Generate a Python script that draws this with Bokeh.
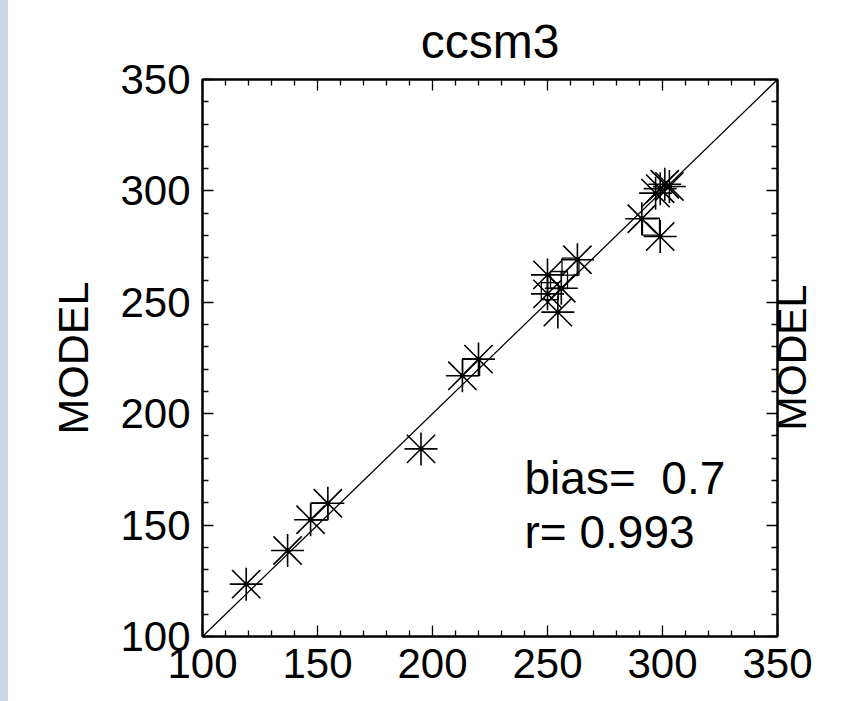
import math
from bokeh.plotting import figure
from bokeh.models import Range1d, LinearAxis, FixedTicker, Label, Title, Spacer
from bokeh.layouts import row
from bokeh.embed import file_html
from bokeh.resources import INLINE

# ---- data ----
obs_x = [119, 137, 147, 154.5, 195, 213, 220, 250, 263, 256, 250, 254.5, 291, 299, 297, 299, 301, 303]
model_y = [123.5, 138.6, 152.4, 159.8, 184.2, 217, 224.5, 262.3, 269.1, 256.3, 253.8, 245.6, 287.5, 279.5, 299, 301, 303, 302]
sq_x = [150.8, 216.8, 251, 255, 260, 295]
sq_y = [156.1, 220.9, 255, 260, 266, 284]
line_x = [100, 350]
line_y = [100, 350]
major_ticks = [100, 150, 200, 250, 300, 350]
minor_ticks = [v for v in range(100, 351, 10) if v % 50 != 0]
title_text = "ccsm3"
ylabel = "MODEL"
bias_text = "bias=\u00a0 0.7"
r_text = "r= 0.993"

FONT = "Liberation Sans"
SLIDE_BLUE = "#cbd8e9"

p = figure(width=833, height=701, output_backend="svg", toolbar_location=None,
           x_range=Range1d(100, 350), y_range=Range1d(100, 350),
           x_axis_location=None, y_axis_location=None,
           min_border_left=194, min_border_right=62, min_border_top=79, min_border_bottom=65)
p.background_fill_color = "white"
p.border_fill_color = "white"
p.outline_line_color = "black"
p.outline_line_width = 2
p.grid.visible = False

def style_axis(ax, labels=True):
    ax.ticker = FixedTicker(ticks=major_ticks, minor_ticks=minor_ticks)
    ax.major_tick_in = 11
    ax.major_tick_out = 0
    ax.minor_tick_in = 6
    ax.minor_tick_out = 0
    ax.major_tick_line_width = 1.3
    ax.minor_tick_line_width = 1.3
    ax.axis_line_width = 2
    ax.axis_line_color = "black"
    ax.major_tick_line_color = "black"
    ax.minor_tick_line_color = "black"
    ax.major_label_text_font = FONT
    if labels:
        ax.major_label_text_color = "black"
        ax.major_label_text_font_size = "42px"
        ax.major_label_standoff = 12
    else:
        ax.major_label_text_color = None
        ax.major_label_text_font_size = "1px"
        ax.major_label_standoff = 0
    ax.axis_label_text_font = FONT
    ax.axis_label_text_font_size = "43px"
    ax.axis_label_text_font_style = "normal"
    ax.axis_label_text_color = "black"

left = LinearAxis(axis_label=ylabel); style_axis(left, True); left.axis_label_standoff = 20
bottom = LinearAxis(); style_axis(bottom, True)
right = LinearAxis(); style_axis(right, False)
top = LinearAxis(); style_axis(top, False)
p.add_layout(left, "left")
p.add_layout(bottom, "below")
p.add_layout(right, "right")
p.add_layout(top, "above")

# right-hand axis title, reading bottom to top like the left one:
# drawn as the single label of an extra, tickless right axis
right_title_pos = 192.5
right_lab = LinearAxis(ticker=FixedTicker(ticks=[right_title_pos], minor_ticks=[]),
                       major_label_overrides={right_title_pos: ylabel},
                       major_label_orientation=math.pi / 2,
                       major_label_standoff=15,
                       major_label_text_font=FONT, major_label_text_font_size="41px",
                       major_label_text_color="black",
                       axis_line_color=None, major_tick_line_color=None, minor_tick_line_color=None,
                       major_tick_in=0, major_tick_out=0, minor_tick_in=0, minor_tick_out=0)
p.add_layout(right_lab, "right")

p.title = Title(text=title_text, align="center", text_font=FONT, text_font_size="48px",
                text_font_style="normal", text_color="black", standoff=23)

# 1:1 line
p.line(line_x, line_y, line_color="black", line_width=1.3)

# squares
p.scatter(sq_x, sq_y, marker="square", size=17, fill_color=None, line_color="black", line_width=1.3)

# asterisks (IDL psym=2 style)
p.scatter(obs_x, model_y, marker="cross", size=33, line_color="black", line_width=1.6)
p.scatter(obs_x, model_y, marker="x", size=40, line_color="black", line_width=1.6)
p.scatter(obs_x, model_y, marker="circle", size=4, fill_color="black", line_color="black")

p.add_layout(Label(x=240, y=171, text=bias_text, text_font=FONT,
                   text_font_size="46px", text_color="black", text_baseline="middle"))
p.add_layout(Label(x=240, y=147, text=r_text, text_font=FONT,
                   text_font_size="46px", text_color="black", text_baseline="middle"))

left_strip = Spacer(width=8, height=701, styles={"background-color": SLIDE_BLUE})
layout = row(left_strip, p, spacing=0)

open("out.html", "w").write(file_html(layout, INLINE))
